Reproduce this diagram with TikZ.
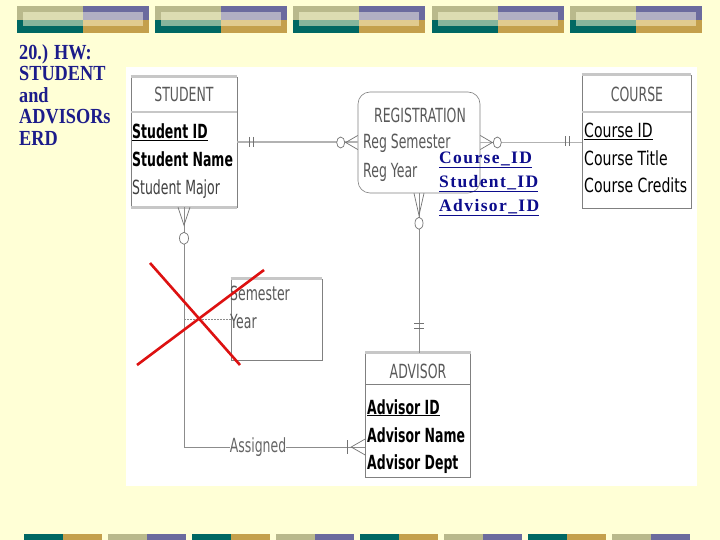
\documentclass[tikz,border=0pt]{standalone}
\usepackage{fontspec}
\setmainfont{Liberation Serif}
\newfontfamily\erdfont[FakeStretch=0.64]{DejaVu Sans}
\newfontfamily\erdwide[FakeStretch=0.72]{DejaVu Sans}
\newfontfamily\slidefont[FakeStretch=0.85]{Liberation Serif}
\newfontfamily\keyfont[LetterSpace=8]{Liberation Serif}
\usepackage{xcolor}
\usetikzlibrary{calc}
\definecolor{slidebg}{HTML}{FFFFD6}
\definecolor{slidenavy}{HTML}{1C1C8A}
\definecolor{keyblue}{HTML}{0C0C8C}
\definecolor{barOlive}{HTML}{B9B98C}
\definecolor{barPurple}{HTML}{6B6B9E}
\definecolor{barTeal}{HTML}{006863}
\definecolor{barTan}{HTML}{C4A04C}
\definecolor{barOliveL}{HTML}{DCDCB2}
\definecolor{barPurpleL}{HTML}{B1AFC3}
\definecolor{barTealL}{HTML}{86B59C}
\definecolor{barTanL}{HTML}{E1CB8F}
\definecolor{strike}{HTML}{DD1111}
\tikzset{
  entity/.style={rectangle, draw=black!50, line width=0.6pt, fill=white, inner sep=0pt},
  relbox/.style={entity, rounded corners=12pt},
  hdr/.style   ={font=\erdfont\fontsize{19.5}{22}\selectfont, text=black!65, inner sep=0pt, anchor=base},
  attr/.style  ={font=\erdfont\fontsize{19.5}{22}\selectfont, text=black!75, inner sep=0pt, anchor=base west},
  keyattr/.style={attr, font=\erdfont\bfseries\fontsize{19.5}{22}\selectfont, text=black},
  crsattr/.style={attr, font=\erdwide\fontsize{19.5}{22}\selectfont, text=black},
  hrule/.style ={draw=black!22, line width=2.6pt},     % header rule of an entity
  link/.style  ={draw=black!30, line width=1.6pt},     % top relationships
  rel/.style   ={draw=black!45, line width=0.8pt},     % other relationships
  tick/.style  ={draw=black!55, line width=0.7pt},     % bars and crow's feet
  optc/.style  ={tick, fill=white},                    % optional circle
  title/.style ={font=\slidefont\bfseries\fontsize{21.5}{21.5}\selectfont, text=slidenavy,
                 align=left, inner sep=0pt},
  keys/.style  ={font=\keyfont\bfseries\fontsize{17.5}{24}\selectfont, text=keyblue,
                 align=left, inner sep=0pt},
}
\begin{document}
\begin{tikzpicture}[x=1pt, y=-1pt]
\useasboundingbox (0,0) rectangle (720,540);
\fill[slidebg] (0,0) rectangle (720,540);

% slide bars
\foreach \x in {17,155,293,432,570} {
  \fill[barOlive] (\x,6) rectangle ++(66,14);
  \fill[barPurple] (\x+66,6) rectangle ++(66,14);
  \fill[barTeal] (\x,20) rectangle ++(66,13);
  \fill[barTan] (\x+66,20) rectangle ++(66,13);
  \fill[barOliveL] (\x+6,12) rectangle ++(60,8);
  \fill[barPurpleL] (\x+66,12) rectangle ++(60,8);
  \fill[barTealL] (\x+6,20) rectangle ++(60,6);
  \fill[barTanL] (\x+66,20) rectangle ++(60,6);
}
\foreach \x in {24,192,360,528} {
  \fill[barTeal] (\x,534) rectangle ++(39,6);
  \fill[barTan] (\x+39,534) rectangle ++(39,6);
}
\foreach \x in {108,276,444,612} {
  \fill[barOlive] (\x,534) rectangle ++(39,6);
  \fill[barPurple] (\x+39,534) rectangle ++(39,6);
}

\node[title, anchor=north west] (ttl) at (19,44) {20.) HW:\\STUDENT\\and\\ADVISORs\\ERD};

\fill[white] (126,67) rectangle (697,486);

% entities
\node[entity, minimum width=106pt, minimum height=130pt] (stu) at (184,142) {};
\node[relbox, minimum width=122pt, minimum height=101pt] (regi) at (419,142.5) {};
\node[entity, minimum width=109pt, minimum height=133pt] (course) at (636.5,141.5) {};
\node[entity, minimum width=105pt, minimum height=124pt] (adv) at (418,415) {};
\node[entity, minimum width=91pt, minimum height=81pt] (sem) at (276.5,319.5) {};

\draw[hrule] (stu.north west) -- (stu.north east);
\draw[hrule] ($(stu.west)+(0,-30)$) -- ($(stu.east)+(0,-30)$);
\draw[hrule] (stu.south west) -- (stu.south east);
\draw[hrule] (course.north west) -- (course.north east);
\draw[hrule] ($(course.west)+(0,-29.5)$) -- ($(course.east)+(0,-29.5)$);
\draw[hrule] (adv.north west) -- (adv.north east);
\draw[draw=black!50, line width=0.6pt] ($(adv.west)+(0,-31)$) -- ($(adv.east)+(0,-31)$);
\draw[hrule] (sem.north west) -- (sem.north east);

\node[hdr] (stuh) at (184,102) {STUDENT};
\node[keyattr] (stu1) at (132,139) {\underline{Student ID}};
\node[keyattr] (stu2) at (132,167) {Student Name};
\node[attr] (stu3) at (132,195) {Student Major};

\node[hdr] (regih) at (420,123) {REGISTRATION};
\node[attr, text=black!65] (regi1) at (363,149) {Reg Semester};
\node[attr, text=black!65] (regi2) at (363,178) {Reg Year};

\node[hdr] (courseh) at (637,102) {COURSE};
\node[crsattr] (course1) at (584,138) {\underline{Course ID}};
\node[crsattr] (course2) at (584,166) {Course Title};
\node[crsattr] (course3) at (584,193) {Course Credits};

\node[hdr] (advh) at (418,378) {ADVISOR};
\node[keyattr] (adv1) at (367,414) {\underline{Advisor ID}};
\node[keyattr] (adv2) at (367,442) {Advisor Name};
\node[keyattr] (adv3) at (367,469) {Advisor Dept};

\node[attr, text=black!65] (sem1) at (230,300) {Semester};
\node[attr, text=black!65] (sem2) at (230,328) {Year};

% STUDENT -- REGISTRATION
\draw[link] (stu.east) -- (stu.east -| regi.west);
\draw[tick] ($(stu.east)+(12,-5)$) -- ++(0,10) ($(stu.east)+(16,-5)$) -- ++(0,10);
\draw[tick] ($(regi.west)+(0,-7)$) -- ++(-12,7) -- ++(12,7);
\draw[optc] ($(regi.west)+(-17,0)$) ellipse [x radius=4, y radius=5.5];

% REGISTRATION -- COURSE
\draw[link] (regi.east) -- (regi.east -| course.west);
\draw[tick] ($(regi.east)+(0,-7)$) -- ++(12,7) -- ++(-12,7);
\draw[optc] ($(regi.east)+(17,0)$) ellipse [x radius=4, y radius=5.5];
\draw[tick] ($(course.west)+(-16,-5)$) -- ++(0,10) ($(course.west)+(-12,-5)$) -- ++(0,10);

% REGISTRATION -- ADVISOR
\draw[rel] (regi.south) -- (regi.south |- adv.north);
\draw[tick] ($(regi.south)+(-5,0)$) -- ++(5,22) -- ++(5,-22);
\draw[optc] ($(regi.south)+(0,30)$) ellipse [x radius=4, y radius=6];
\draw[tick] ($(regi.south |- adv.north)+(-5,-29)$) -- ++(10,0) ($(regi.south |- adv.north)+(-5,-24)$) -- ++(10,0);

% STUDENT -- ADVISOR
\node[attr, text=black!60, anchor=center] (asg) at (258,447) {Assigned};
\draw[rel] (stu.south) |- (asg.west);
\draw[rel] (asg.east) -- (asg.east -| adv.west);
\draw[tick] ($(stu.south)+(-6,0)$) -- ++(6,18) -- ++(6,-18);
\draw[optc] ($(stu.south)+(0,31)$) ellipse [x radius=4.5, y radius=6];
\draw[tick] ($(asg.east -| adv.west)+(-18,-7)$) -- ++(0,14);
\draw[tick] ($(asg.east -| adv.west)+(0,-8)$) -- ++(-14,8) -- ++(14,8);
\draw[rel, dashed, dash pattern=on 2pt off 1pt] (sem.west -| stu.south) -- (sem.west);

% struck out
\draw[strike, line width=2.6pt] (150,263) -- (240,365);
\draw[strike, line width=2.6pt] (264,270) -- (137,365);

\node[keys, anchor=north west] (keys) at (439,152) {\underline{Course\_ID}\\\underline{Student\_ID}\\\underline{Advisor\_ID}};

\end{tikzpicture}
\end{document}
